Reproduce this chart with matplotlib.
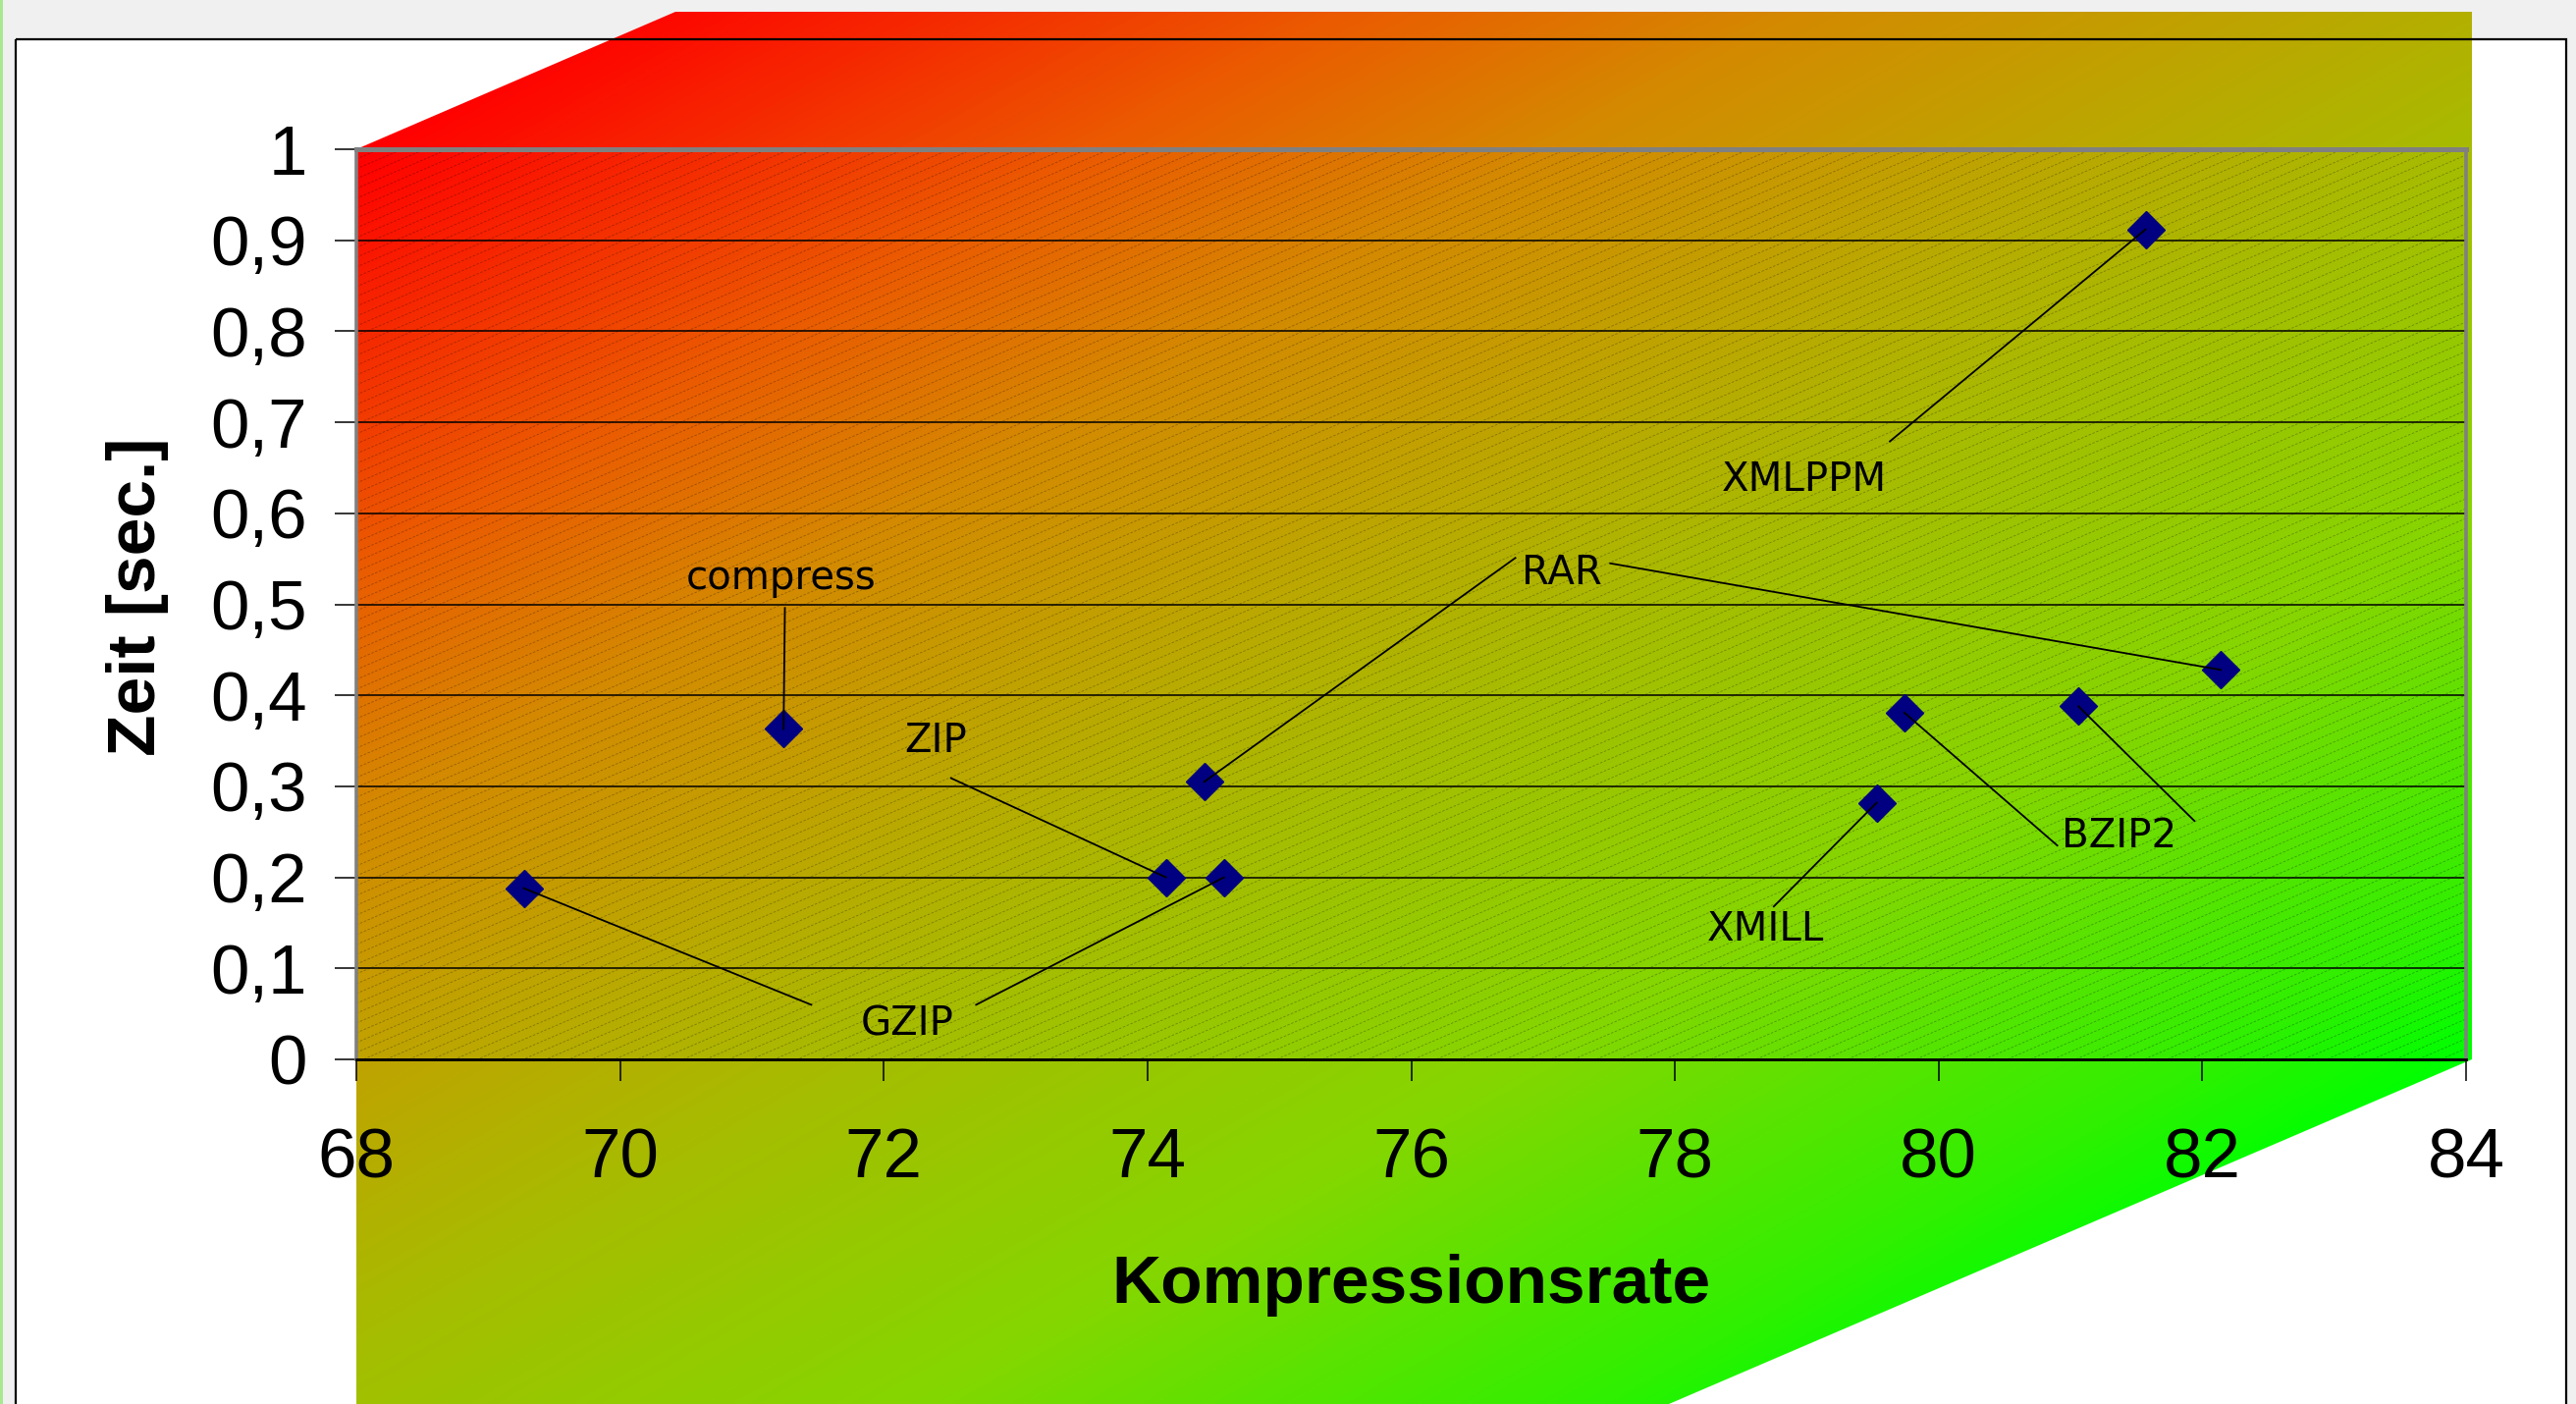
import numpy as np
import matplotlib
matplotlib.use('Agg')
import matplotlib.pyplot as plt
from matplotlib.colors import LinearSegmentedColormap
from matplotlib.patches import Polygon, Rectangle
from matplotlib.collections import LineCollection

plt.rcParams['font.family'] = ['Liberation Sans', 'DejaVu Sans']

# data
labels = ['compress', 'GZIP', 'GZIP', 'ZIP', 'RAR', 'RAR', 'XMILL', 'BZIP2', 'BZIP2', 'XMLPPM']
kompressionsrate = [71.24, 69.27, 74.58, 74.14, 74.43, 82.14, 79.53, 79.74, 81.06, 81.57]
zeit = [0.363, 0.188, 0.200, 0.200, 0.305, 0.428, 0.282, 0.381, 0.388, 0.912]

x_ticks = [68, 70, 72, 74, 76, 78, 80, 82, 84]
y_ticks = [0, 0.1, 0.2, 0.3, 0.4, 0.5, 0.6, 0.7, 0.8, 0.9, 1]
y_ticklabels = ['0', '0,1', '0,2', '0,3', '0,4', '0,5', '0,6', '0,7', '0,8', '0,9', '1']

# where the label texts sit and where each leader line starts
label_text_pos = {'compress': (71.22, 0.529), 'ZIP': (72.39, 0.350), 'GZIP': (72.18, 0.038),
                  'RAR': (77.14, 0.534), 'XMLPPM': (78.98, 0.636), 'XMILL': (78.69, 0.142),
                  'BZIP2': (81.37, 0.245)}
leader_start = [(71.25, 0.496), (71.45, 0.060), (72.70, 0.060), (72.51, 0.309), (76.79, 0.551),
                (77.51, 0.545), (78.75, 0.168), (80.90, 0.235), (81.94, 0.262), (79.63, 0.679)]

W, H = 2624, 1430
L, R, T, B = 363, 2512, 152, 1079

fig = plt.figure(figsize=(W / 100, H / 100), dpi=100, facecolor='#f0f0f0')

# background layer in pixel coordinates
bg = fig.add_axes([0, 0, 1, 1])
bg.axis('off')
bg.add_patch(Rectangle((0, 0), 2.5, H, facecolor='#a8e890', edgecolor='none', zorder=1))
bg.add_patch(Rectangle((16, 40), 2598, 1500, facecolor='white', edgecolor='none', zorder=1))

grad = LinearSegmentedColormap.from_list('rg', [
    (0.0, (1.0, 0.0, 0.0)), (0.2, (0.92, 0.36, 0.0)), (0.32, (0.83, 0.54, 0.0)),
    (0.45, (0.74, 0.65, 0.0)), (0.57, (0.65, 0.74, 0.0)), (0.75, (0.52, 0.84, 0.0)),
    (0.93, (0.19, 0.94, 0.0)), (1.0, (0.0, 1.0, 0.0))])
yy, xx = np.mgrid[0:H:2, 0:W:2]
t = np.clip(0.000263 * (xx - L) + 0.000469 * (yy - T), 0, 1)
im = bg.imshow(t, cmap=grad, vmin=0, vmax=1, extent=(0, W, H, 0), aspect='auto',
               interpolation='bilinear', zorder=2)
shape = Polygon([(L, T), (688, 12), (2518, 12), (2518, B), (1700, H), (L, H)],
                closed=True, facecolor='none', edgecolor='none')
bg.add_patch(shape)
im.set_clip_path(shape)

# fine diagonal hatching over the plot area
cs = np.arange(T, B + 0.43 * (R - L) + 10, 10)
segs = [[(L, c), (R, c - 0.43 * (R - L))] for c in cs]
hatch = LineCollection(segs, colors='black', linewidths=0.6, alpha=0.3,
                       linestyles=[(0, (3, 2))], zorder=3)
bg.add_collection(hatch)
hatch.set_clip_path(Rectangle((L, T), R - L, B - T, transform=bg.transData))

bg.add_patch(Rectangle((16, 40), 2598, 1500, facecolor='none', edgecolor='black',
                       linewidth=1.6, zorder=4))
bg.set_xlim(0, W)
bg.set_ylim(H, 0)

# chart
ax = fig.add_axes([L / W, 1 - B / H, (R - L) / W, (B - T) / H])
ax.set_facecolor('none')
ax.set_xlim(68, 84)
ax.set_ylim(0, 1)
ax.set_xticks(x_ticks)
ax.set_xticklabels([str(v) for v in x_ticks])
ax.set_yticks(y_ticks)
ax.set_yticklabels(y_ticklabels)
ax.tick_params(axis='both', labelsize=51, direction='out', length=16, width=1.1, color='black')
ax.tick_params(axis='x', pad=34)
ax.tick_params(axis='y', pad=20)
ax.yaxis.grid(True, color='black', linewidth=1.1)
for side in ['left', 'right']:
    ax.spines[side].set_color('#808080')
    ax.spines[side].set_linewidth(2.6)
ax.spines['top'].set_color('#808080')
ax.spines['top'].set_linewidth(3.6)
ax.spines['bottom'].set_color('black')
ax.spines['bottom'].set_linewidth(2.0)

ax.plot(kompressionsrate, zeit, 'D', color='#000080', markersize=19.5, zorder=5, clip_on=False)
for (sx, sy), px, py in zip(leader_start, kompressionsrate, zeit):
    ax.plot([sx, px], [sy, py], color='black', linewidth=1.3, zorder=6)
for name, (tx, ty) in label_text_pos.items():
    ax.text(tx, ty, name, ha='center', va='center', fontsize=29, family='DejaVu Sans', zorder=7)

ax.set_xlabel('Kompressionsrate', fontsize=50, fontweight='bold', va='center')
ax.set_ylabel('Zeit [sec.]', fontsize=50, fontweight='bold', va='center')
ax.xaxis.set_label_coords(0.5, -0.248)
ax.yaxis.set_label_coords(-0.104, 0.508)

fig.savefig('out.png', dpi=100, facecolor=fig.get_facecolor())
